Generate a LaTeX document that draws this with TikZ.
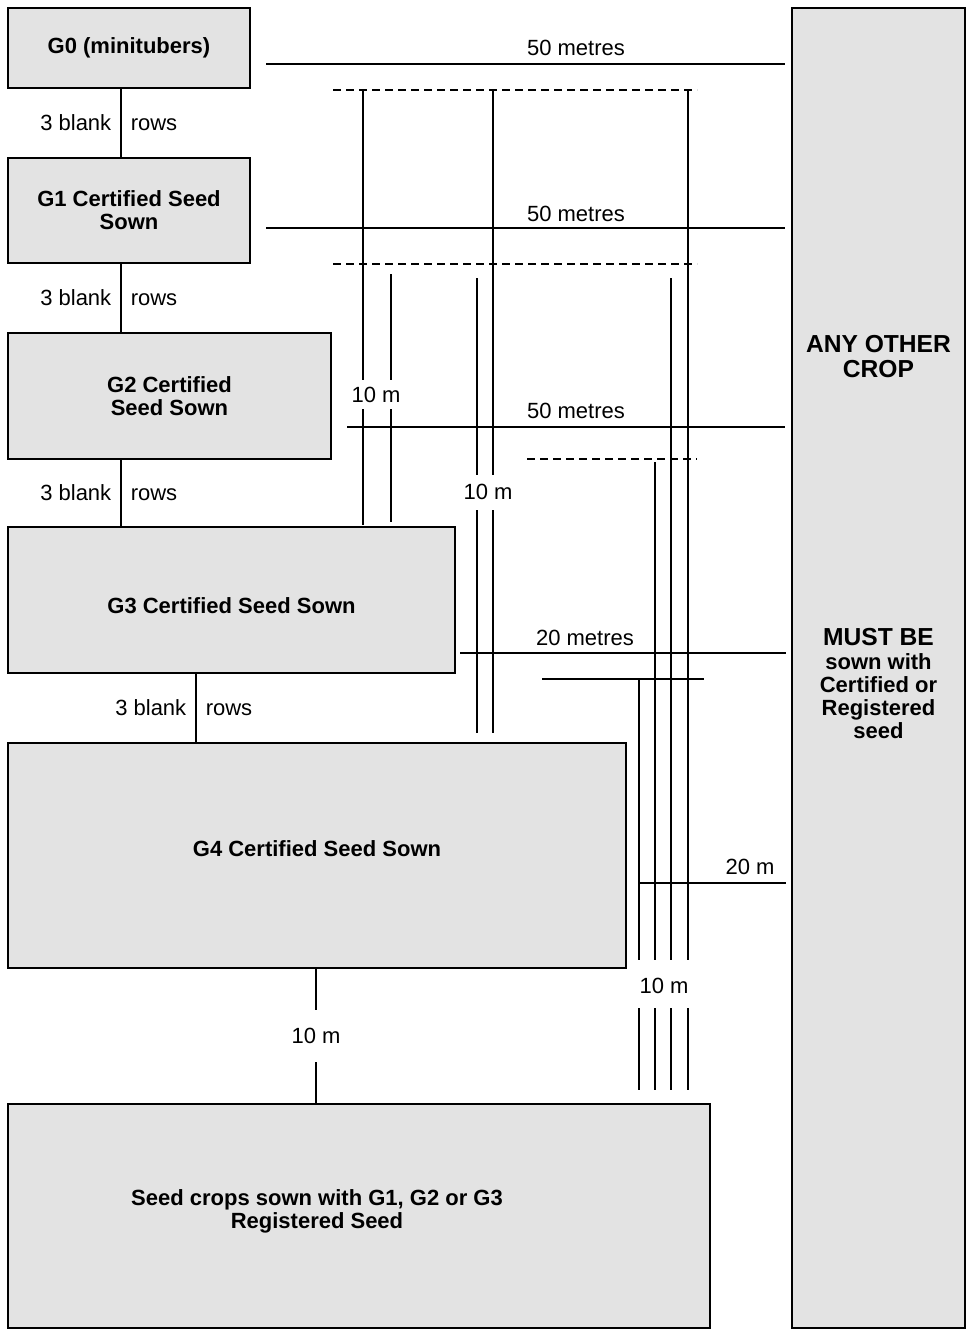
\documentclass[tikz,border=0pt]{standalone}
\usepackage{fontspec}
\setmainfont{Liberation Sans}
\usepackage{xcolor}
\usepackage{tikz}
\usetikzlibrary{positioning}
\definecolor{fieldgray}{RGB}{227,227,227}
\tikzset{
  plot/.style={
    draw,
    line width=1pt,
    fill=fieldgray,
    align=center,
    inner sep=0pt,
    font=\bfseries\fontsize{11}{11.5}\selectfont
  },
  croptext/.style={
    align=center,
    inner sep=0pt,
    font=\bfseries\fontsize{12.3}{12.5}\selectfont
  },
  sowtext/.style={
    align=center,
    inner sep=0pt,
    font=\bfseries\fontsize{11}{11.5}\selectfont
  },
  dimtext/.style={
    inner sep=0pt,
    text height=7.9pt,
    text depth=0pt,
    font=\fontsize{11}{11.5}\selectfont
  },
  measure/.style={line width=0.75pt},
  headland/.style={line width=0.75pt, dash pattern=on 4pt off 2.5pt}
}

\begin{document}
\begin{tikzpicture}[x=0.5pt, y=-0.5pt]
  \useasboundingbox (0,0) rectangle (972,1329);

  \node[plot, minimum width=121pt, minimum height=40pt] (g0) at (129,48) {G0 (minitubers)};
  \node[plot, minimum width=121pt, minimum height=52.5pt] (g1) at (129,210.5) {G1 Certified Seed\\Sown};
  \node[plot, minimum width=161.5pt, minimum height=63pt] (g2) at (169.5,396) {G2 Certified\\Seed Sown};
  \node[plot, minimum width=223.5pt, minimum height=73pt] (g3) at (231.5,600) {};
  \node[plot, minimum width=309pt, minimum height=112.5pt] (g4) at (317,855.5) {};
  \node[plot, minimum width=351pt, minimum height=112pt] (seedcrop) at (359,1216) {};
  \node[plot, minimum width=86.5pt, minimum height=660pt] (othercrop) at (878.5,668) {};

  \node[sowtext] (g3text) at (231.5,606) {G3 Certified Seed Sown};
  \node[sowtext] (g4text) at (317,849) {G4 Certified Seed Sown};
  \node[sowtext] (seedtext) at (317,1211) {Seed crops sown with G1, G2 or G3\\Registered Seed};
  \node[croptext] (anyother) at (878.5,357) {ANY OTHER\\CROP};
  \node[croptext] (mustbe) at (878.5,637) {MUST BE};
  \node[sowtext, below=3.5pt of mustbe] (sownwith) {sown with\\Certified or\\Registered\\seed};

  % blank rows between the generations
  \coordinate (rowsA) at (121,0);
  \coordinate (rowsB) at (196,0);
  \coordinate (isoC) at (316,0);
  \draw[measure] (g0.south -| rowsA) -- (g1.north -| rowsA)
    node[midway, dimtext, left=4.5pt] {3 blank} node[midway, dimtext, right=4.5pt] {rows};
  \draw[measure] (g1.south -| rowsA) -- (g2.north -| rowsA)
    node[midway, dimtext, left=4.5pt] {3 blank} node[midway, dimtext, right=4.5pt] {rows};
  \draw[measure] (g2.south -| rowsA) -- (g3.north -| rowsA)
    node[midway, dimtext, left=4.5pt] {3 blank} node[midway, dimtext, right=4.5pt] {rows};
  \draw[measure] (g3.south -| rowsB) -- (g4.north -| rowsB)
    node[midway, dimtext, left=4.5pt] {3 blank} node[midway, dimtext, right=4.5pt] {rows};
  \draw[measure] (g4.south -| isoC) -- (seedcrop.north -| isoC)
    node[midway, dimtext, fill=white, inner ysep=9pt, inner xsep=2pt] (tenE) {10 m};

  % isolation distances
  \draw[measure] (266,64) -- (785,64);
  \draw[measure] (266,228) -- (785,228);
  \draw[measure] (347,427) -- (785,427);
  \draw[measure] (460,653) -- (786,653);
  \draw[measure] (542,679) -- (704,679);
  \draw[measure] (639,883) -- (786,883);
  \draw[headland] (333,90) -- (697,90);
  \draw[headland] (333,264) -- (697,264);
  \draw[headland] (527,459) -- (697,459);

  \foreach \x/\top/\bot in {363/90/525, 391/274/522}
    \draw[measure] (\x,\top) -- (\x,380) (\x,409) -- (\x,\bot);
  \foreach \x/\top in {477/278, 493/90}
    \draw[measure] (\x,\top) -- (\x,475) (\x,510) -- (\x,733);
  \foreach \x/\top in {639/679, 655/462, 671/278, 688/90}
    \draw[measure] (\x,\top) -- (\x,960) (\x,1008) -- (\x,1090);

  \node[dimtext] (fiftyA) at (576,48) {50 metres};
  \node[dimtext] (fiftyB) at (576,214) {50 metres};
  \node[dimtext] (fiftyC) at (576,411) {50 metres};
  \node[dimtext] (twentyA) at (585,638) {20 metres};
  \node[dimtext] (twentyB) at (750,867) {20 m};
  \node[dimtext] (tenA) at (376,395) {10 m};
  \node[dimtext] (tenB) at (488,492) {10 m};
  \node[dimtext] (tenC) at (664,986) {10 m};
\end{tikzpicture}
\end{document}
